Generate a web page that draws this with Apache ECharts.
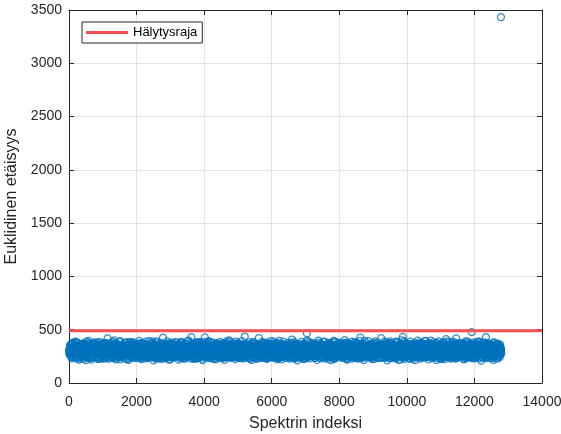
<!DOCTYPE html>
<html>
<head>
<meta charset="utf-8">
<script src="https://cdn.jsdelivr.net/npm/echarts@6/dist/echarts.min.js"></script>
<style>
  html, body { margin: 0; padding: 0; background: #fff; }
  #chart { width: 561px; height: 434px; }
</style>
</head>
<body>
<div id="chart"></div>
<script>
// Euclidean distance per spectrum, four interleaved samplings every 20th index
const naytevali = 20;
const alkuA = 1, alkuB = 11, alkuC = 6, alkuD = 16;
const etaisyysA = [
  312, 268, 345, 290, 231, 377, 301, 256, 334, 389, 274, 318, 243, 362, 297, 220, 351, 283, 329, 265,
  306, 372, 248, 339, 291, 214, 358, 277, 322, 395, 262, 301, 344, 236, 315, 286, 367, 253, 330, 299,
  271, 349, 226, 310, 384, 259, 337, 293, 241, 366, 318, 280, 356, 232, 303, 341, 275, 418, 263, 348,
  296, 238, 371, 315, 254, 332, 287, 399, 267, 221, 343, 308, 279, 361, 245, 324, 392, 258, 301, 336,
  284, 353, 229, 319, 376, 264, 298, 340, 217, 311, 387, 251, 327, 289, 360, 237, 305, 346, 272, 323,
  358, 247, 314, 281, 396, 260, 333, 224, 302, 369, 276, 342, 253, 317, 388, 295, 233, 350, 269, 326,
  291, 364, 240, 309, 337, 212, 355, 284, 321, 250, 380, 299, 266, 345, 228, 316, 374, 257, 338, 425,
  303, 270, 347, 235, 320, 391, 261, 313, 286, 357, 222, 336, 298, 372, 249, 325, 282, 363, 242, 309,
  341, 277, 219, 354, 296, 330, 385, 255, 312, 268, 349, 230, 304, 367, 288, 244, 328, 397, 273, 318,
  260, 431, 335, 292, 227, 359, 307, 251, 344, 381, 279, 316, 238, 352, 297, 263, 370, 324, 215, 339,
  287, 428, 354, 246, 319, 276, 393, 301, 233, 342, 265, 327, 378, 254, 310, 289, 361, 223, 335, 300,
  270, 348, 314, 239, 386, 282, 325, 258, 366, 297, 218, 340, 305, 272, 357, 248, 321, 401, 264, 333,
  294, 237, 368, 311, 279, 346, 225, 389, 303, 256, 331, 285, 362, 243, 318, 274, 352, 299, 230, 340,
  436, 267, 322, 355, 248, 309, 383, 261, 338, 292, 216, 349, 281, 326, 371, 253, 306, 344, 275, 232,
  315, 422, 359, 287, 240, 333, 298, 377, 266, 321, 251, 347, 308, 226, 364, 290, 334, 259, 392, 302,
  278, 341, 236, 317, 372, 263, 305, 350, 221, 328, 286, 396, 255, 339, 300, 244, 361, 313, 271, 345,
  234, 325, 288, 376, 259, 312, 353, 228, 337, 295, 408, 268, 320, 249, 368, 304, 282, 343, 213, 330,
  297, 362, 252, 318, 386, 275, 339, 230, 309, 357, 264, 326, 466, 291, 243, 348, 381, 270, 315, 335,
  258, 300, 373, 236, 329, 284, 351, 217, 312, 397, 267, 341, 294, 246, 363, 308, 278, 332, 389, 255,
  321, 286, 356, 227, 305, 370, 261, 338, 296, 244, 349, 314, 382, 273, 229, 327, 360, 290, 251, 343,
  302, 379, 266, 319, 238, 354, 283, 331, 402, 257, 310, 346, 220, 293, 365, 274, 336, 248, 317, 388,
  279, 324, 242, 358, 299, 265, 374, 311, 232, 345, 288, 426, 254, 330, 307, 369, 215, 340, 282, 313,
  350, 260, 325, 394, 271, 303, 239, 357, 316, 285, 337, 224, 368, 298, 252, 344, 309, 380, 263, 328,
  291, 235, 420, 318, 347, 276, 301, 362, 245, 333, 289, 212, 355, 322, 268, 391, 306, 249, 339, 296,
  273, 358, 326, 231, 312, 383, 258, 341, 294, 366, 219, 320, 280, 347, 433, 261, 308, 372, 243, 335,
  300, 264, 351, 319, 227, 389, 283, 337, 250, 306, 360, 292, 214, 345, 276, 323, 398, 256, 314, 241,
  331, 286, 374, 238, 308, 353, 269, 322, 396, 247, 339, 297, 221, 364, 311, 272, 348, 233, 327, 384,
  262, 305, 343, 281, 216, 356, 318, 390, 253, 334, 290, 237, 371, 302, 267, 346, 225, 329, 412, 295,
  246, 338, 309, 361, 274, 228, 352, 295, 321, 386, 258, 313, 349, 419, 236, 304, 367, 279, 330, 251,
  316, 375, 263, 342, 289, 221, 357, 308, 394, 270, 333, 244, 301, 363, 284, 326, 478, 257, 348, 312,
  230, 294, 369, 277, 336, 252, 315, 388, 266, 324, 211, 355, 300, 341, 243, 373, 287, 430, 319, 261,
  345, 297, 234, 366, 310, 272, 352, 326, 218, 381, 288, 339, 256, 303, 371, 247, 322, 294, 359, 276
];
const etaisyysB = [
  287, 333, 259, 371, 305, 244, 326, 292, 358, 268, 315, 381, 237, 302, 347, 275, 321, 254, 366, 298,
  340, 227, 311, 283, 357, 264, 329, 246, 373, 300, 272, 335, 219, 318, 361, 289, 250, 344, 307, 380,
  262, 318, 296, 349, 233, 382, 279, 325, 304, 256, 337, 294, 369, 248, 328, 286, 355, 241, 314, 290,
  326, 275, 343, 252, 388, 300, 236, 317, 352, 281, 306, 365, 260, 290, 334, 223, 348, 311, 273, 357,
  249, 312, 376, 295, 267, 338, 222, 351, 282, 327, 260, 304, 345, 239, 316, 378, 271, 324, 297, 234,
  305, 365, 277, 334, 243, 318, 290, 372, 256, 341, 229, 299, 323, 358, 274, 244, 339, 283, 394, 261,
  338, 253, 309, 280, 362, 296, 245, 329, 271, 390, 301, 236, 350, 287, 314, 265, 341, 226, 306, 367,
  276, 329, 297, 354, 258, 283, 339, 220, 368, 304, 247, 326, 289, 243, 357, 311, 262, 335, 296, 379,
  290, 360, 251, 318, 274, 383, 243, 335, 292, 356, 228, 314, 278, 336, 256, 392, 302, 263, 345, 231,
  315, 271, 364, 234, 340, 286, 321, 378, 262, 306, 349, 241, 330, 295, 266, 351, 228, 310, 384, 280,
  324, 257, 298, 371, 240, 333, 287, 312, 362, 249, 318, 283, 352, 227, 299, 344, 272, 376, 253, 314,
  351, 290, 260, 329, 305, 246, 372, 297, 235, 320, 345, 268, 310, 390, 254, 333, 282, 239, 358, 301,
  267, 332, 309, 254, 348, 294, 319, 240, 366, 281, 373, 247, 303, 327, 261, 393, 236, 318, 286, 355,
  293, 348, 241, 305, 280, 363, 232, 317, 275, 354, 300, 265, 386, 239, 308, 290, 369, 226, 331, 309,
  258, 300, 280, 341, 317, 261, 359, 245, 329, 295, 379, 270, 233, 350, 286, 323, 244, 362, 276, 339,
  323, 267, 390, 250, 296, 341, 279, 234, 357, 307, 265, 325, 348, 283, 221, 364, 297, 258, 333, 288,
  312, 282, 346, 260, 307, 238, 331, 374, 289, 255, 317, 343, 233, 384, 299, 261, 327, 290, 359, 270,
  349, 245, 306, 273, 338, 228, 365, 296, 268, 330, 285, 392, 253, 312, 336, 277, 231, 301, 367, 286,
  292, 345, 264, 312, 357, 273, 304, 338, 259, 282, 325, 234, 366, 300, 328, 244, 386, 297, 268, 318,
  263, 335, 301, 377, 250, 327, 283, 214, 356, 317, 274, 396, 232, 341, 305, 280, 250, 371, 322, 296,
  338, 256, 314, 288, 352, 301, 242, 368, 276, 327, 225, 293, 371, 318, 259, 340, 302, 279, 229, 361,
  305, 372, 290, 236, 327, 350, 287, 256, 339, 271, 394, 307, 348, 265, 290, 236, 324, 395, 266, 347,
  275, 316, 243, 333, 290, 367, 261, 309, 226, 352, 298, 375, 250, 321, 346, 278, 233, 297, 355, 308,
  340, 280, 352, 266, 312, 237, 388, 290, 331, 270, 307, 359, 241, 287, 373, 254, 322, 366, 284, 239,
  310, 246, 299, 388, 263, 329, 289, 217, 348, 312, 274, 341, 401, 255, 306, 342, 227, 318, 292, 369,
  277, 344, 236, 287, 367, 260, 312, 356, 294, 226, 334, 377, 270, 305, 247, 360, 284, 329, 380, 297,
  259, 352, 321, 285, 339, 275, 394, 248, 308, 361, 278, 324, 265, 298, 342, 397, 255, 313, 291, 246,
  327, 291, 238, 373, 300, 343, 265, 317, 281, 357, 225, 312, 344, 255, 384, 318, 296, 262, 336, 357,
  298, 271, 385, 244, 320, 302, 268, 374, 241, 335, 297, 367, 232, 280, 325, 351, 253, 309, 374, 286,
  348, 262, 312, 227, 337, 295, 380, 258, 322, 242, 359, 293, 338, 276, 348, 234, 307, 381, 273, 333,
  315, 354, 262, 342, 294, 388, 281, 234, 352, 298, 320, 267, 380, 253, 316, 291, 358, 332, 247, 373,
  292, 330, 358, 257, 288, 341, 233, 303, 345, 267, 319, 362, 281, 342, 228, 311, 352, 269, 333, 308
];
const etaisyysC = [
  301, 352, 276, 329, 248, 367, 290, 318, 263, 341, 384, 257, 309, 333, 229, 296, 358, 281, 320, 245,
  338, 291, 363, 252, 316, 279, 347, 234, 302, 371, 269, 325, 288, 356, 241, 310, 380, 262, 334, 297,
  317, 242, 288, 360, 273, 331, 299, 254, 345, 318, 231, 377, 285, 308, 339, 260, 296, 363, 227, 351,
  270, 336, 311, 285, 356, 240, 322, 374, 293, 257, 348, 302, 266, 330, 385, 249, 314, 281, 343, 306,
  344, 293, 257, 337, 300, 381, 268, 312, 235, 355, 287, 328, 249, 296, 362, 317, 274, 339, 292, 257,
  282, 327, 345, 262, 307, 234, 352, 289, 375, 270, 318, 246, 340, 283, 304, 365, 238, 327, 301, 349,
  305, 266, 328, 391, 255, 318, 287, 342, 302, 232, 361, 278, 315, 253, 339, 294, 368, 246, 283, 332,
  353, 298, 241, 312, 372, 286, 330, 262, 349, 295, 317, 378, 238, 303, 326, 269, 347, 311, 258, 340,
  264, 321, 346, 279, 233, 305, 359, 318, 271, 338, 289, 251, 370, 320, 297, 346, 261, 282, 335, 377,
  329, 355, 289, 314, 251, 339, 274, 296, 362, 232, 305, 341, 280, 383, 248, 322, 291, 357, 268, 303,
  293, 243, 371, 300, 330, 264, 345, 238, 318, 386, 275, 299, 336, 263, 312, 357, 229, 290, 348, 271,
  311, 338, 266, 354, 284, 312, 236, 327, 276, 350, 301, 249, 365, 291, 334, 270, 314, 387, 244, 328,
  340, 281, 306, 246, 327, 369, 292, 263, 354, 320, 241, 300, 279, 343, 238, 310, 330, 266, 362, 297,
  257, 313, 362, 291, 341, 251, 307, 354, 229, 288, 333, 374, 261, 316, 287, 349, 243, 304, 279, 356,
  346, 292, 239, 317, 271, 386, 253, 321, 290, 366, 306, 234, 330, 274, 357, 299, 315, 242, 338, 268,
  298, 350, 315, 268, 334, 295, 244, 372, 312, 259, 346, 290, 238, 322, 350, 273, 308, 388, 257, 324,
  327, 264, 343, 296, 240, 355, 285, 310, 263, 377, 296, 328, 260, 304, 241, 337, 366, 279, 312, 250,
  269, 337, 293, 360, 310, 252, 322, 281, 349, 237, 318, 272, 341, 395, 283, 255, 325, 298, 352, 317,
  318, 289, 254, 339, 276, 365, 298, 246, 331, 306, 378, 262, 297, 321, 248, 358, 276, 310, 243, 346,
  351, 308, 276, 246, 359, 292, 337, 372, 268, 300, 226, 343, 316, 265, 388, 302, 334, 258, 291, 365,
  275, 330, 361, 302, 268, 318, 251, 296, 344, 233, 311, 379, 264, 329, 283, 248, 367, 305, 337, 289,
  336, 260, 299, 384, 315, 242, 328, 350, 293, 315, 257, 332, 283, 241, 364, 316, 287, 252, 306, 374,
  294, 347, 321, 255, 337, 280, 312, 236, 359, 274, 320, 262, 343, 390, 270, 308, 352, 324, 277, 238,
  312, 274, 246, 346, 291, 357, 266, 333, 302, 382, 248, 299, 356, 308, 231, 342, 281, 304, 362, 255,
  355, 321, 285, 261, 320, 234, 379, 295, 260, 325, 357, 286, 243, 333, 298, 268, 390, 276, 319, 342,
  260, 300, 341, 314, 253, 346, 289, 237, 322, 368, 277, 314, 352, 262, 337, 306, 250, 362, 293, 229,
  303, 369, 264, 332, 297, 318, 241, 364, 285, 330, 250, 345, 296, 374, 256, 321, 288, 335, 247, 310,
  344, 252, 318, 289, 376, 270, 306, 345, 239, 301, 352, 264, 327, 288, 312, 243, 359, 280, 306, 388,
  270, 312, 357, 236, 297, 340, 324, 259, 311, 361, 279, 232, 308, 371, 262, 296, 329, 347, 254, 318,
  329, 287, 240, 301, 365, 258, 317, 281, 347, 304, 382, 321, 255, 291, 334, 366, 270, 239, 323, 297,
  278, 343, 307, 382, 249, 319, 357, 296, 269, 336, 245, 309, 345, 292, 258, 380, 312, 273, 351, 290,
  361, 269, 318, 295, 342, 260, 288, 376, 249, 313, 351, 277, 236, 324, 296, 359, 262, 338, 284, 321
];
const etaisyysD = [
  268, 319, 295, 243, 356, 310, 337, 272, 304, 231, 346, 288, 374, 260, 325, 302, 245, 339, 286, 362,
  297, 256, 334, 309, 272, 388, 245, 314, 350, 283, 327, 239, 306, 368, 296, 265, 333, 311, 247, 321,
  349, 301, 264, 227, 319, 296, 354, 278, 230, 304, 362, 268, 331, 297, 251, 377, 312, 287, 345, 268,
  307, 359, 282, 331, 243, 294, 265, 339, 312, 370, 228, 287, 319, 249, 302, 353, 279, 243, 326, 290,
  258, 283, 340, 269, 312, 353, 328, 283, 371, 245, 299, 336, 264, 381, 323, 285, 245, 360, 310, 339,
  330, 276, 296, 372, 255, 287, 339, 309, 246, 320, 363, 285, 310, 241, 355, 300, 326, 266, 242, 312,
  286, 342, 374, 245, 296, 351, 264, 230, 333, 283, 315, 353, 261, 327, 294, 240, 311, 360, 287, 255,
  319, 233, 281, 327, 291, 243, 310, 366, 287, 250, 341, 296, 360, 279, 255, 332, 384, 275, 300, 268,
  346, 288, 332, 258, 371, 293, 243, 342, 299, 356, 312, 267, 328, 244, 306, 279, 337, 305, 254, 290,
  289, 313, 247, 360, 282, 316, 350, 229, 318, 271, 380, 264, 306, 345, 313, 372, 247, 283, 339, 261,
  352, 311, 284, 253, 296, 383, 320, 272, 256, 306, 345, 238, 313, 287, 358, 249, 322, 304, 278, 368,
  247, 291, 354, 313, 238, 262, 337, 359, 296, 243, 326, 286, 373, 241, 281, 309, 356, 263, 324, 284,
  318, 366, 252, 283, 336, 301, 247, 319, 277, 341, 296, 350, 234, 363, 294, 265, 343, 286, 251, 311,
  336, 272, 303, 347, 265, 312, 329, 283, 348, 305, 241, 322, 294, 264, 337, 320, 294, 357, 315, 270,
  285, 325, 360, 251, 299, 238, 306, 341, 234, 269, 356, 310, 282, 335, 243, 371, 268, 306, 282, 363,
  244, 308, 287, 338, 270, 360, 327, 256, 290, 374, 234, 277, 303, 362, 313, 246, 326, 294, 340, 273,
  356, 295, 251, 320, 347, 279, 244, 294, 352, 316, 261, 349, 291, 228, 321, 354, 301, 236, 276, 304,
  315, 283, 328, 243, 299, 336, 287, 356, 227, 303, 369, 299, 241, 338, 268, 311, 345, 261, 330, 288,
  275, 333, 304, 361, 236, 319, 252, 276, 342, 267, 315, 294, 338, 275, 359, 293, 230, 347, 321, 262,
  302, 250, 349, 290, 322, 265, 349, 294, 317, 337, 283, 254, 302, 356, 240, 323, 285, 307, 262, 334,
  330, 363, 287, 238, 309, 374, 266, 320, 251, 298, 345, 321, 247, 288, 333, 305, 256, 364, 291, 240,
  268, 296, 348, 317, 272, 289, 339, 231, 304, 367, 240, 283, 359, 302, 276, 248, 341, 290, 332, 255,
  322, 254, 271, 355, 306, 245, 293, 348, 287, 249, 336, 308, 265, 315, 299, 351, 282, 243, 309, 361,
  283, 338, 315, 289, 243, 328, 364, 274, 237, 311, 357, 271, 329, 254, 373, 284, 264, 340, 238, 318,
  347, 276, 240, 306, 345, 281, 312, 349, 290, 252, 300, 335, 278, 361, 239, 318, 296, 253, 345, 283,
  311, 359, 294, 270, 328, 299, 256, 263, 340, 286, 312, 246, 301, 331, 287, 273, 352, 310, 267, 336,
  245, 285, 333, 305, 250, 362, 311, 279, 326, 242, 360, 294, 317, 249, 352, 282, 238, 299, 366, 277,
  298, 337, 269, 352, 317, 236, 290, 326, 356, 274, 289, 340, 232, 372, 318, 300, 268, 338, 254, 322,
  336, 251, 299, 323, 285, 376, 247, 304, 293, 327, 254, 352, 313, 282, 244, 337, 305, 262, 290, 349,
  258, 317, 362, 276, 251, 310, 339, 233, 298, 268, 321, 276, 361, 249, 306, 286, 329, 356, 300, 241,
  342, 303, 241, 318, 360, 274, 296, 329, 307, 362, 284, 238, 328, 306, 349, 262, 233, 297, 318, 333,
  287, 247, 335, 309, 266, 357, 297, 244, 321, 286, 338, 300, 265, 293, 350, 282, 313, 246, 304, 275
];
// single far-off spectrum near the end of the run
const poikkeamaIndeksi = 12785;
const poikkeamaArvo = 3432;
// alarm threshold
const halytysraja = 490;
const xTicks = [0, 2000, 4000, 6000, 8000, 10000, 12000, 14000];
const yTicks = [0, 500, 1000, 1500, 2000, 2500, 3000, 3500];

const pisteet = [];
[[etaisyysA, alkuA], [etaisyysB, alkuB], [etaisyysC, alkuC], [etaisyysD, alkuD]].forEach(([arvot, alku]) => {
  arvot.forEach((v, i) => pisteet.push([alku + i * naytevali, v]));
});
pisteet.sort((a, b) => a[0] - b[0]);
pisteet.push([poikkeamaIndeksi, poikkeamaArvo]);

const FONT = 'Liberation Sans, Arial, sans-serif';
const AXIS_COLOR = '#262626';
const GRID_COLOR = '#e3e3e3';
const RED = '#f75050';

const chart = echarts.init(document.getElementById('chart'), null, { renderer: 'canvas' });

const labelStyle = { color: AXIS_COLOR, fontFamily: FONT, fontSize: 14, formatter: v => String(v) };

chart.setOption({
  animation: false,
  backgroundColor: '#ffffff',
  grid: { left: 69, right: 19, top: 10, bottom: 51, containLabel: false, outerBoundsMode: 'none' },
  legend: {
    left: 82, top: 22,
    orient: 'vertical',
    data: [{ name: 'Hälytysraja', icon: 'rect' }],
    itemWidth: 42,
    itemHeight: 3,
    itemGap: 0,
    padding: [4, 5, 4, 4],
    backgroundColor: '#ffffff',
    borderColor: AXIS_COLOR,
    borderWidth: 1,
    borderRadius: 0,
    textStyle: { color: '#000', fontFamily: FONT, fontSize: 13 }
  },
  xAxis: [
    {
      type: 'value', min: xTicks[0], max: xTicks[xTicks.length - 1], interval: 2000,
      name: 'Spektrin indeksi', nameLocation: 'middle', nameGap: 33,
      nameTextStyle: { color: AXIS_COLOR, fontFamily: FONT, fontSize: 16 },
      axisLine: { show: true, onZero: false, lineStyle: { color: AXIS_COLOR, width: 1 } },
      axisTick: { show: true, inside: true, length: 5, lineStyle: { color: AXIS_COLOR } },
      axisLabel: Object.assign({ margin: 12 }, labelStyle),
      splitLine: { show: true, lineStyle: { color: GRID_COLOR, width: 1 } }
    },
    {
      type: 'value', position: 'top', min: xTicks[0], max: xTicks[xTicks.length - 1], interval: 2000,
      axisLine: { show: true, onZero: false, lineStyle: { color: AXIS_COLOR, width: 1 } },
      axisTick: { show: true, inside: true, length: 5, lineStyle: { color: AXIS_COLOR } },
      axisLabel: { show: false },
      splitLine: { show: false }
    }
  ],
  yAxis: [
    {
      type: 'value', min: yTicks[0], max: yTicks[yTicks.length - 1], interval: 500,
      name: 'Euklidinen etäisyys', nameLocation: 'middle', nameGap: 30, nameRotate: 90,
      nameTextStyle: { color: AXIS_COLOR, fontFamily: FONT, fontSize: 16 },
      axisLine: { show: true, onZero: false, lineStyle: { color: AXIS_COLOR, width: 1 } },
      axisTick: { show: true, inside: true, length: 5, lineStyle: { color: AXIS_COLOR } },
      axisLabel: Object.assign({ margin: 7 }, labelStyle),
      splitLine: { show: true, lineStyle: { color: GRID_COLOR, width: 1 } }
    },
    {
      type: 'value', position: 'right', min: yTicks[0], max: yTicks[yTicks.length - 1], interval: 500,
      axisLine: { show: true, onZero: false, lineStyle: { color: AXIS_COLOR, width: 1 } },
      axisTick: { show: true, inside: true, length: 5, lineStyle: { color: AXIS_COLOR } },
      axisLabel: { show: false },
      splitLine: { show: false }
    }
  ],
  series: [
    {
      name: 'Etäisyys',
      type: 'scatter',
      data: pisteet,
      symbol: 'circle',
      symbolSize: 7,
      large: false,
      itemStyle: { color: 'rgba(0,0,0,0)', borderColor: '#0072BD', borderWidth: 1.25 },
      emphasis: { disabled: true },
      z: 2
    },
    {
      name: 'Hälytysraja',
      type: 'line',
      data: [[xTicks[0], halytysraja], [xTicks[xTicks.length - 1], halytysraja]],
      symbol: 'none',
      lineStyle: { color: RED, width: 3 },
      itemStyle: { color: RED },
      emphasis: { disabled: true },
      z: 3
    }
  ]
});
</script>
</body>
</html>
